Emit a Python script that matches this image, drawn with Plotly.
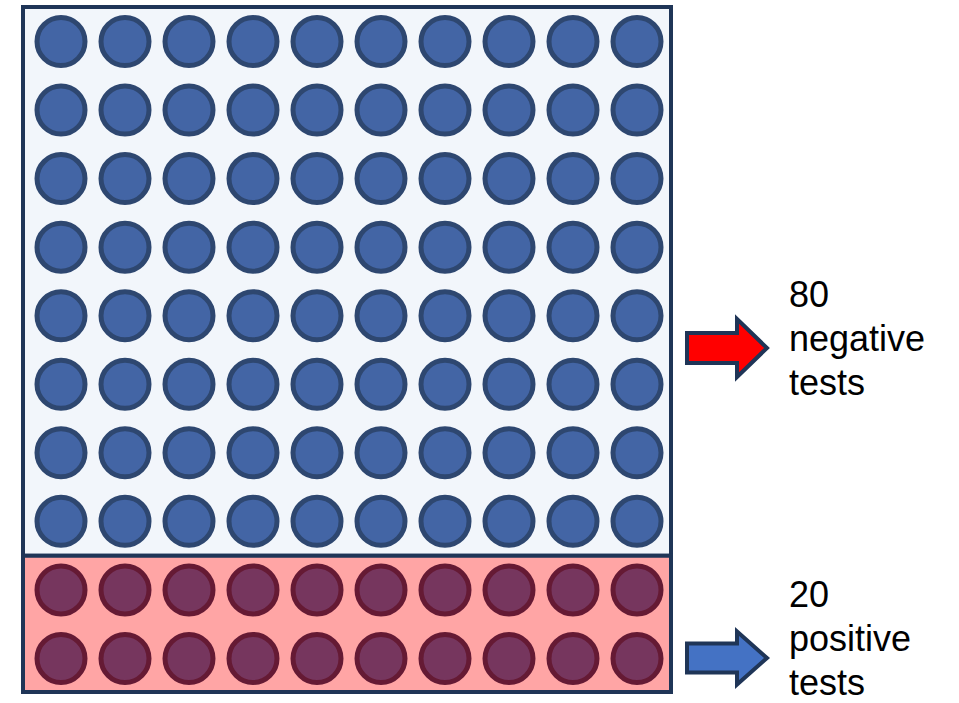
import plotly.graph_objects as go

# Test outcomes out of 100 people
groups = ["negative", "positive"]
counts = [80, 20]
n_cols = 10

fill_colors = {"negative": "#4365A5", "positive": "#76365E"}
edge_colors = {"negative": "#2E4770", "positive": "#651A34"}
panel_colors = {"negative": "#F2F6FB", "positive": "#FFA5A5"}
arrow_colors = {"negative": "#FF0000", "positive": "#4472C4"}

# Grid geometry (pixel space of the canvas)
W, H = 959, 703
x0_dot, dx = 61, 64
y0_dot, dy = 41.5, 68.55
box_left, box_right, box_top, box_bottom = 23, 671, 7, 692

# Arrow centre line and first text line for each group
arrow_y = {"negative": 348, "positive": 658}
text_y0 = {"negative": 294, "positive": 594}
line_gap = 44

fig = go.Figure()
shapes = []
annotations = []

row_start = 0
total_rows = sum(counts) // n_cols
for g, c in zip(groups, counts):
    n_rows = c // n_cols
    xs, ys = [], []
    for i in range(c):
        r = row_start + i // n_cols
        col = i % n_cols
        xs.append(x0_dot + col * dx)
        ys.append(y0_dot + r * dy)
    # panel behind this group's dots
    top = box_top if row_start == 0 else (y0_dot + (row_start - 0.5) * dy)
    bot = box_bottom if row_start + n_rows >= total_rows else (y0_dot + (row_start + n_rows - 0.5) * dy)
    shapes.append(dict(type="rect", xref="x", yref="y", x0=box_left, x1=box_right, y0=top, y1=bot,
                       fillcolor=panel_colors[g], line=dict(color="#1F3557", width=4), layer="below"))
    fig.add_trace(go.Scatter(
        x=xs, y=ys, mode="markers", name=g, hoverinfo="skip",
        marker=dict(size=48, color=fill_colors[g], line=dict(color=edge_colors[g], width=5)),
    ))
    # arrow + label beside the group
    cy = arrow_y[g]
    ax0, ax1, ahead = 687, 767, 737
    bh, hh = (15 if g == "negative" else 14.5), (29 if g == "negative" else 26.5)
    path = (f"M{ax0},{cy-bh} L{ahead},{cy-bh} L{ahead},{cy-hh} L{ax1},{cy} "
            f"L{ahead},{cy+hh} L{ahead},{cy+bh} L{ax0},{cy+bh} Z")
    shapes.append(dict(type="path", xref="x", yref="y", path=path,
                       fillcolor=arrow_colors[g], line=dict(color="#1F3557", width=4)))
    label_lines = [str(c), g, "tests"]
    for k, txt in enumerate(label_lines):
        annotations.append(dict(x=787, y=text_y0[g] + k * line_gap, xref="x", yref="y", text=txt,
                                showarrow=False, xanchor="left", yanchor="middle",
                                font=dict(family="Liberation Sans, Arial", size=36, color="#000000")))
    row_start += n_rows

fig.update_layout(
    width=W, height=H, margin=dict(l=0, r=0, t=0, b=0),
    paper_bgcolor="white", plot_bgcolor="white", showlegend=False,
    xaxis=dict(range=[0, W], visible=False, fixedrange=True),
    yaxis=dict(range=[H, 0], visible=False, fixedrange=True),
    shapes=shapes, annotations=annotations,
)

fig.write_html("out.html")
